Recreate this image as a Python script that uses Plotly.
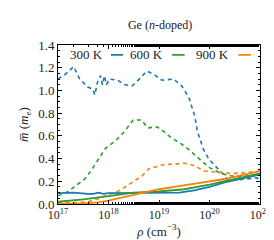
import plotly.graph_objects as go

# log10 of carrier density (cm^-3) and effective mass values
blue_dash_x = [17.0, 17.14, 17.31, 17.43, 17.59, 17.69, 17.73, 17.78, 17.84, 17.88, 17.92, 17.96, 18.02, 18.18, 18.33, 18.47, 18.61, 18.76, 18.90, 19.06, 19.29, 19.45, 19.59, 19.71, 19.76, 19.82, 19.88, 19.98, 20.10, 20.24, 20.35, 20.53, 20.73, 20.92, 21.0]
blue_dash_y = [1.10, 1.14, 1.21, 1.10, 1.03, 1.01, 0.96, 1.07, 1.13, 1.05, 1.13, 1.05, 1.10, 1.09, 1.05, 1.04, 1.10, 1.17, 1.14, 1.09, 1.10, 1.04, 0.94, 0.77, 0.64, 0.55, 0.48, 0.40, 0.34, 0.28, 0.22, 0.21, 0.22, 0.23, 0.22]

green_dash_x = [17.0, 17.04, 17.20, 17.35, 17.53, 17.65, 17.84, 17.94, 18.12, 18.24, 18.37, 18.49, 18.65, 18.78, 18.96, 19.12, 19.25, 19.41, 19.59, 19.71, 19.84, 20.00, 20.18, 20.37, 20.63, 20.82, 21.0]
green_dash_y = [0.07, 0.08, 0.11, 0.16, 0.22, 0.29, 0.42, 0.49, 0.55, 0.60, 0.67, 0.74, 0.74, 0.67, 0.68, 0.63, 0.58, 0.54, 0.48, 0.43, 0.38, 0.32, 0.28, 0.25, 0.24, 0.25, 0.26]

orange_dash_x = [17.0, 17.29, 17.59, 17.82, 17.98, 18.18, 18.33, 18.51, 18.67, 18.80, 18.96, 19.12, 19.31, 19.49, 19.69, 19.90, 20.14, 20.37, 20.57, 20.76, 21.0]
orange_dash_y = [0.01, 0.01, 0.02, 0.05, 0.08, 0.11, 0.15, 0.20, 0.25, 0.31, 0.33, 0.35, 0.35, 0.36, 0.34, 0.29, 0.28, 0.27, 0.27, 0.28, 0.29]

blue_solid_x = [17.0, 17.3, 17.6, 17.7, 17.8, 17.9, 18.0, 18.3, 18.6, 19.0, 19.4, 19.7, 20.0, 20.3, 20.6, 21.0]
blue_solid_y = [0.095, 0.10, 0.09, 0.09, 0.10, 0.09, 0.095, 0.095, 0.10, 0.10, 0.10, 0.12, 0.15, 0.19, 0.22, 0.26]

green_solid_x = [17.0, 17.5, 18.0, 18.5, 19.0, 19.5, 20.0, 20.3, 20.6, 21.0]
green_solid_y = [0.02, 0.04, 0.07, 0.10, 0.11, 0.13, 0.17, 0.20, 0.23, 0.27]

orange_solid_x = [17.0, 17.5, 17.8, 18.0, 18.3, 18.6, 18.8, 19.0, 19.3, 19.6, 20.0, 20.3, 20.6, 21.0]
orange_solid_y = [0.0, 0.005, 0.015, 0.03, 0.06, 0.09, 0.11, 0.13, 0.15, 0.17, 0.20, 0.22, 0.25, 0.29]

labels = ["300 K", "600 K", "900 K"]
colors = ["#1f77b4", "#2ca02c", "#ff7f0e"]

x_tick_exps = [17, 18, 19, 20, 21]
y_ticks = [0.0, 0.2, 0.4, 0.6, 0.8, 1.0, 1.2, 1.4]

FONT = "Liberation Serif, Times New Roman, serif"

fig = go.Figure()
dash_sets = [(blue_dash_x, blue_dash_y), (green_dash_x, green_dash_y), (orange_dash_x, orange_dash_y)]
solid_sets = [(blue_solid_x, blue_solid_y), (green_solid_x, green_solid_y), (orange_solid_x, orange_solid_y)]

for (xs, ys), c in zip(dash_sets, colors):
    fig.add_trace(go.Scatter(x=[10.0 ** v for v in xs], y=ys, mode="lines",
                             line=dict(color=c, width=1.6, dash="4px,3.5px"), showlegend=False))
for (xs, ys), c, lab in zip(solid_sets, colors, labels):
    fig.add_trace(go.Scatter(x=[10.0 ** v for v in xs], y=ys, mode="lines", name=lab,
                             line=dict(color=c, width=1.8), showlegend=False))

# legend drawn as text followed by line sample (matplotlib markerfirst=False style)
leg_text_right = [0.235, 0.53, 0.858]
leg_line = [(0.262, 0.322), (0.565, 0.627), (0.893, 0.955)]
for lab, c, tr, (l0, l1) in zip(labels, colors, leg_text_right, leg_line):
    fig.add_annotation(x=tr, y=0.938, xref="paper", yref="paper", text=lab, showarrow=False,
                       xanchor="right", yanchor="middle", font=dict(family=FONT, size=13, color="#222"))
    fig.add_shape(type="line", x0=l0, x1=l1, y0=0.938, y1=0.938, xref="paper", yref="paper",
                  line=dict(color=c, width=1.8))

axis_common = dict(showline=True, linecolor="black", linewidth=1, mirror="allticks",
                   ticks="inside", ticklen=4, tickwidth=0.8, tickcolor="black",
                   showgrid=False, zeroline=False, ticklabeloverflow="allow")

fig.update_xaxes(type="log", range=[17, 21],
                 tickvals=[10.0 ** e for e in x_tick_exps],
                 ticktext=["10<sup>%d</sup>" % e for e in x_tick_exps],
                 tickfont=dict(family=FONT, size=12, color="#222"),
                 minor=dict(ticks="inside", ticklen=2, tickcolor="black", tickwidth=0.6, showgrid=False),
                 title=dict(text="<i>ρ</i> (cm<sup>−3</sup>)", font=dict(family=FONT, size=13, color="#222"), standoff=4),
                 **axis_common)
fig.update_yaxes(range=[0, 1.4], tickvals=y_ticks, ticktext=["%.1f" % v for v in y_ticks],
                 tickfont=dict(family=FONT, size=13, color="#222"),
                 minor=dict(ticks="inside", ticklen=2, tickcolor="black", tickwidth=0.6, dtick=0.05, showgrid=False),
                 title=dict(text="<i>m\u0305</i> (<i>m</i><sub><i>e</i></sub>)", font=dict(family=FONT, size=13, color="#222"), standoff=6),
                 **axis_common)

fig.update_layout(
    width=274, height=240,
    margin=dict(l=50, r=20, t=37, b=41),
    plot_bgcolor="white", paper_bgcolor="white",
    font=dict(family=FONT),
    title=dict(text="Ge (<i>n</i>-doped)", x=0.555, xanchor="center", y=0.93, yanchor="middle",
               font=dict(family=FONT, size=12, color="#222")),
    showlegend=False,
)

fig.write_html("out.html")
